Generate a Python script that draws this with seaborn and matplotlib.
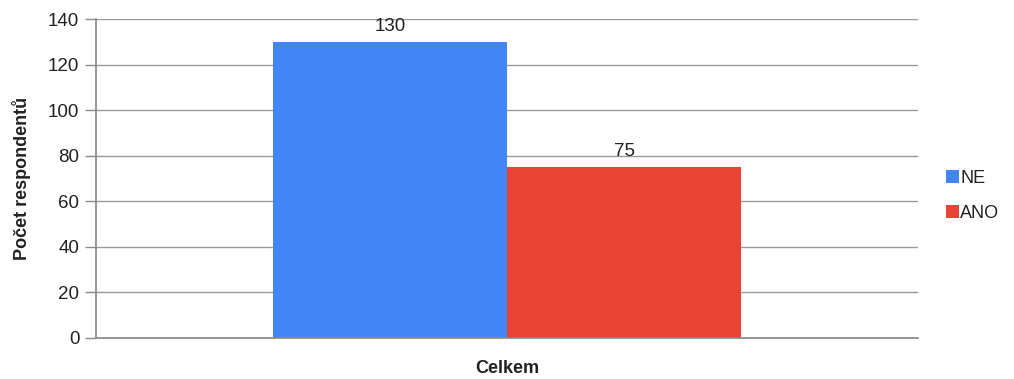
import matplotlib
matplotlib.use("Agg")
import matplotlib.pyplot as plt
import seaborn as sns
import pandas as pd

# Survey answers
categories = ["Celkem", "Celkem"]
answers = ["NE", "ANO"]
counts = [130, 75]
colors = ["#4285F4", "#E94335"]

df = pd.DataFrame({"skupina": categories, "odpoved": answers, "pocet": counts})

sns.set_theme(style="white")
plt.rcParams["font.family"] = ["Liberation Sans", "DejaVu Sans"]

fig = plt.figure(figsize=(10.14, 3.79), dpi=100)
ax = fig.add_axes([96 / 1014, 1 - 338 / 379, (918 - 96) / 1014, (338 - 19) / 379])

sns.barplot(data=df, x="skupina", y="pocet", hue="odpoved", palette=colors,
            width=0.57, saturation=1, linewidth=0, ax=ax, legend=True)

for cont in ax.containers:
    ax.bar_label(cont, fmt="%d", padding=5, fontsize=13.5, color="#222222")

ax.set_ylim(0, 140)
ax.set_yticks(range(0, 141, 20))
ax.set_xlim(-0.5, 0.5)
ax.yaxis.grid(True, color="#9a9a9a", linewidth=1)
ax.set_axisbelow(True)
for side in ["top", "right"]:
    ax.spines[side].set_visible(False)
ax.spines["left"].set_color("#8a8a8a")
ax.spines["bottom"].set_color("#8a8a8a")
ax.tick_params(axis="y", length=8, width=1, color="#8a8a8a", labelsize=13.5,
               labelcolor="#222222", pad=4, left=True)
ax.tick_params(axis="x", length=0, labelsize=13, labelcolor="#222222", pad=16)
for lbl in ax.get_xticklabels():
    lbl.set_fontweight("bold")
ax.set_xlabel("")
ax.set_ylabel("Počet respondentů", fontsize=13, fontweight="bold", color="#222222", labelpad=12)

handles, labels = ax.get_legend_handles_labels()
ax.legend(handles, labels, loc="center left", bbox_to_anchor=(1.034, 0.445),
          frameon=False, fontsize=13, handlelength=0.7, handleheight=0.7,
          handletextpad=0.1, labelspacing=1.0, borderpad=0, borderaxespad=0,
          labelcolor="#222222")

fig.savefig("out.png", dpi=100)
